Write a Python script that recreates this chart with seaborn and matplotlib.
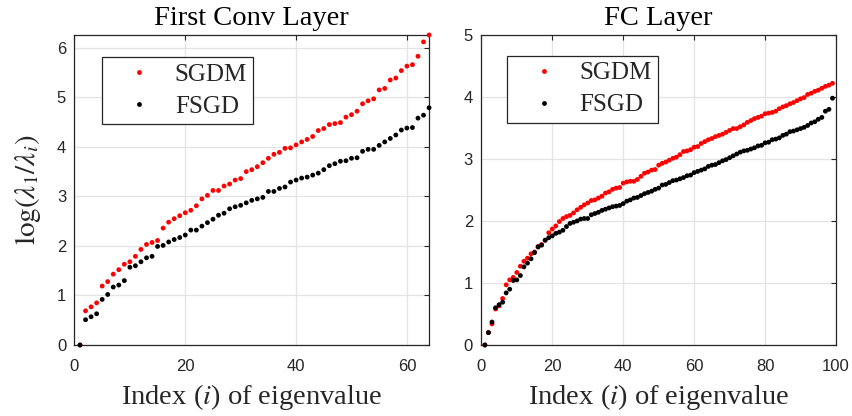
import numpy as np
import pandas as pd
import matplotlib
matplotlib.use("Agg")
import matplotlib.pyplot as plt
import seaborn as sns

# log(lambda_1 / lambda_i) per eigenvalue index, first conv layer (64 filters)
conv_sgdm = [0.00, 0.69, 0.77, 0.85, 1.19, 1.28, 1.43, 1.52, 1.63, 1.68,
             1.79, 1.93, 2.03, 2.07, 2.11, 2.36, 2.48, 2.55, 2.61, 2.67,
             2.72, 2.81, 2.95, 3.02, 3.12, 3.12, 3.21, 3.25, 3.33, 3.36,
             3.50, 3.54, 3.60, 3.68, 3.77, 3.85, 3.89, 3.97, 3.98, 4.04,
             4.10, 4.15, 4.21, 4.33, 4.37, 4.45, 4.47, 4.49, 4.60, 4.65,
             4.72, 4.87, 4.93, 4.97, 5.15, 5.18, 5.35, 5.39, 5.54, 5.63,
             5.66, 5.83, 6.12, 6.26]
conv_fsgd = [0.00, 0.51, 0.57, 0.63, 0.92, 1.02, 1.17, 1.21, 1.30, 1.57,
             1.60, 1.68, 1.76, 1.79, 1.99, 2.01, 2.08, 2.13, 2.17, 2.22,
             2.32, 2.32, 2.40, 2.47, 2.54, 2.62, 2.66, 2.75, 2.79, 2.82,
             2.87, 2.92, 2.95, 2.98, 3.10, 3.10, 3.16, 3.19, 3.29, 3.33,
             3.37, 3.39, 3.43, 3.47, 3.54, 3.62, 3.66, 3.71, 3.72, 3.77,
             3.78, 3.91, 3.95, 3.95, 4.03, 4.10, 4.17, 4.24, 4.34, 4.38,
             4.39, 4.58, 4.64, 4.79]

# same quantity for the fully connected layer
fc_sgdm = [0.00, 0.20, 0.34, 0.58, 0.63, 0.75, 0.97, 1.05, 1.09, 1.17,
           1.27, 1.35, 1.40, 1.47, 1.50, 1.59, 1.62, 1.69, 1.81, 1.87,
           1.92, 1.99, 2.04, 2.07, 2.09, 2.13, 2.18, 2.22, 2.26, 2.29,
           2.33, 2.34, 2.37, 2.40, 2.45, 2.47, 2.51, 2.53, 2.54, 2.61,
           2.63, 2.64, 2.64, 2.67, 2.72, 2.77, 2.79, 2.82, 2.83, 2.90,
           2.93, 2.95, 2.98, 3.01, 3.03, 3.07, 3.12, 3.13, 3.15, 3.19,
           3.20, 3.25, 3.28, 3.31, 3.33, 3.36, 3.38, 3.40, 3.43, 3.46,
           3.49, 3.49, 3.52, 3.55, 3.59, 3.62, 3.65, 3.67, 3.69, 3.73,
           3.74, 3.75, 3.77, 3.81, 3.84, 3.86, 3.89, 3.91, 3.94, 3.97,
           3.99, 4.04, 4.06, 4.09, 4.11, 4.14, 4.17, 4.19, 4.22]
fc_fsgd = [0.00, 0.20, 0.37, 0.60, 0.65, 0.69, 0.84, 0.90, 1.04, 1.05,
           1.12, 1.26, 1.32, 1.39, 1.49, 1.58, 1.61, 1.69, 1.73, 1.76,
           1.80, 1.82, 1.85, 1.91, 1.96, 1.98, 2.00, 2.03, 2.04, 2.04,
           2.10, 2.12, 2.14, 2.17, 2.19, 2.21, 2.23, 2.24, 2.25, 2.28,
           2.32, 2.34, 2.37, 2.38, 2.41, 2.44, 2.46, 2.48, 2.51, 2.53,
           2.58, 2.59, 2.62, 2.65, 2.66, 2.68, 2.70, 2.73, 2.74, 2.78,
           2.80, 2.82, 2.84, 2.88, 2.90, 2.91, 2.94, 2.97, 2.99, 3.02,
           3.05, 3.08, 3.11, 3.13, 3.14, 3.16, 3.18, 3.21, 3.22, 3.26,
           3.27, 3.31, 3.32, 3.34, 3.38, 3.40, 3.44, 3.45, 3.47, 3.49,
           3.51, 3.54, 3.58, 3.60, 3.64, 3.67, 3.77, 3.80, 3.98]

methods = ["SGDM", "FSGD"]
colors = {"SGDM": "#ff0000", "FSGD": "#000000"}


def long_table(sgdm, fsgd):
    idx = np.arange(1, len(sgdm) + 1)
    return pd.DataFrame({
        "index": np.concatenate([idx, idx]),
        "value": np.concatenate([sgdm, fsgd]),
        "method": ["SGDM"] * len(sgdm) + ["FSGD"] * len(fsgd),
    })


sns.set_theme(style="white")
plt.rcParams["mathtext.fontset"] = "stix"
plt.rcParams["font.family"] = ["Liberation Sans", "DejaVu Sans"]

serif = ["Liberation Serif", "DejaVu Serif"]
edge = "#262626"

fig = plt.figure(figsize=(8.53, 4.16), dpi=100)
ax1 = fig.add_axes([0.0873, 0.1707, 0.4157, 0.7453])
ax2 = fig.add_axes([0.5643, 0.1707, 0.4158, 0.7453])

panels = [
    (ax1, long_table(conv_sgdm, conv_fsgd), "First Conv Layer",
     (0, 64), (0, max(conv_sgdm)), [0, 20, 40, 60], range(0, 7),
     (0.0776, 0.929)),
    (ax2, long_table(fc_sgdm, fc_fsgd), "FC Layer",
     (0, 100), (0, 5), range(0, 101, 20), range(0, 6),
     (0.0716, 0.933)),
]

for ax, df, title, xlim, ylim, xt, yt, leg_pos in panels:
    sns.scatterplot(data=df, x="index", y="value", hue="method",
                    hue_order=methods, palette=colors, s=12, linewidth=0,
                    ax=ax, zorder=3, clip_on=False)
    ax.set_xlim(*xlim)
    ax.set_ylim(*ylim)
    ax.set_xticks(list(xt))
    ax.set_yticks(list(yt))
    ax.grid(True, color="#e3e3e3", linewidth=0.9)
    ax.set_axisbelow(True)
    for sp in ax.spines.values():
        sp.set_color(edge)
        sp.set_linewidth(0.9)
        sp.set_visible(True)
    ax.tick_params(direction="in", length=3.5, width=0.8, color=edge,
                   top=True, right=True, labelsize=12, labelcolor=edge)
    ax.tick_params(axis="x", pad=10)
    ax.tick_params(axis="y", pad=6)
    ax.set_title(title, family=serif, fontsize=20.5, color="black", pad=7)
    ax.set_xlabel("Index ($i$) of eigenvalue", family=serif, fontsize=20.5,
                  color=edge, labelpad=6)
    ax.set_ylabel("")

    leg = ax.legend(loc="upper left", bbox_to_anchor=leg_pos,
                    borderaxespad=0, prop={"family": serif, "size": 18},
                    frameon=True, fancybox=False, edgecolor=edge,
                    borderpad=0.25, handlelength=2.5, handletextpad=0.16,
                    labelspacing=0.38, markerscale=1.0)
    leg.get_frame().set_linewidth(0.9)
    leg.get_frame().set_alpha(1)

ax1.set_ylabel(r"$\log(\lambda_1/\lambda_i)$", fontsize=21, color=edge,
               labelpad=10)

fig.savefig("out.png", dpi=100)
